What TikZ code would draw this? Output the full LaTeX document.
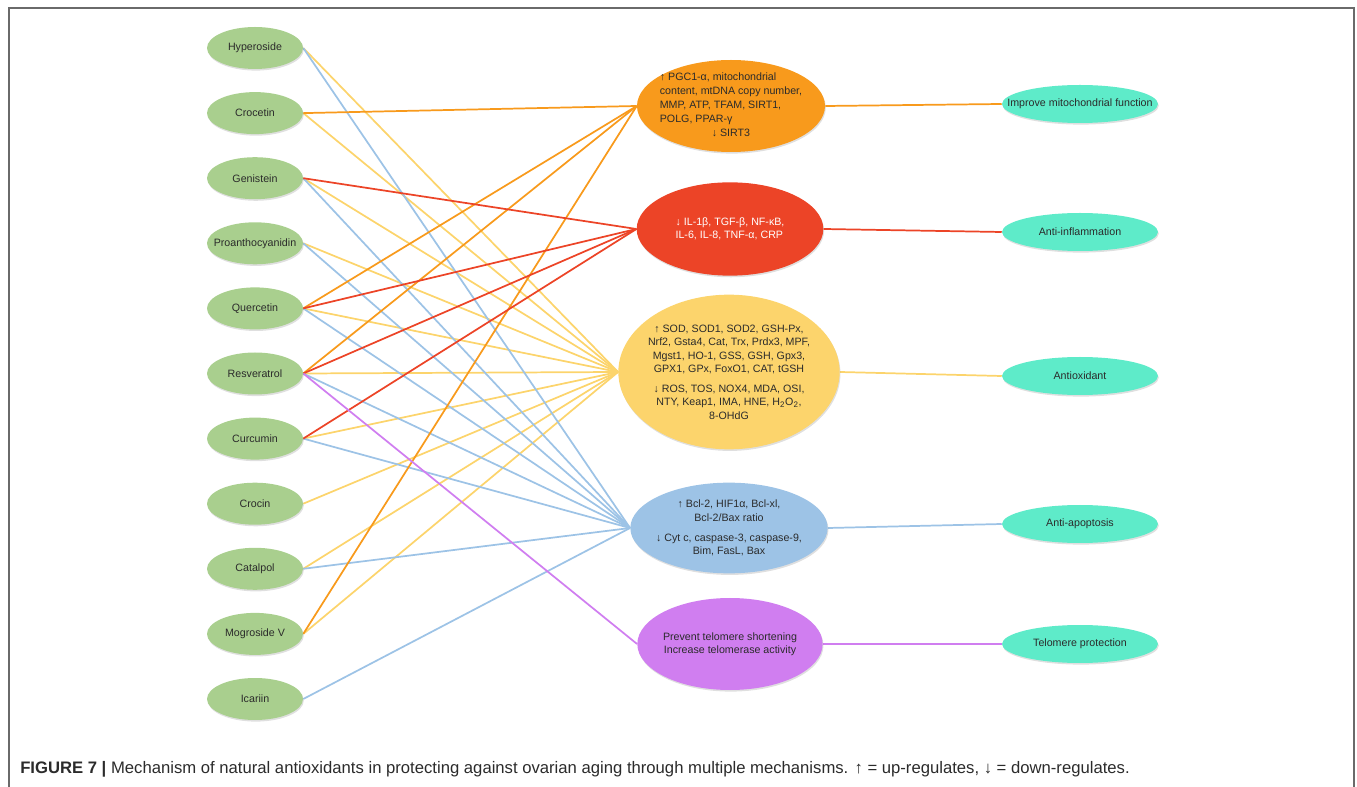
\documentclass[tikz,border=0pt]{standalone}
\usepackage{fontspec}
\setmainfont{Liberation Sans}
\usetikzlibrary{shapes}
\usetikzlibrary{backgrounds,shadows}
\definecolor{leafgreen}{HTML}{A9CF8E}
\definecolor{mitoorange}{HTML}{F89A1C}
\definecolor{inflred}{HTML}{EC4427}
\definecolor{oxyellow}{HTML}{FCD46C}
\definecolor{apoblue}{HTML}{9DC3E6}
\definecolor{telopurple}{HTML}{D07EF0}
\definecolor{outaqua}{HTML}{5EEBC9}
\definecolor{inkgray}{HTML}{2B2B2B}
\definecolor{framegray}{HTML}{6A6A6A}
\tikzstyle{softshadow}=[drop shadow={opacity=0.25,shadow xshift=0.6pt,shadow yshift=-1.2pt}]
\tikzstyle{plant}=[ellipse, fill=leafgreen, softshadow, minimum width=72pt, minimum height=31.5pt, inner xsep=-8pt, inner ysep=0pt, text=inkgray, font=\fontsize{8}{10}\selectfont]
\tikzstyle{effect}=[ellipse, softshadow, inner xsep=-7pt, inner ysep=-7pt, text=inkgray, align=center, font=\fontsize{8}{10}\selectfont]
\tikzstyle{outcome}=[ellipse, fill=outaqua, softshadow, minimum width=117pt, minimum height=28.5pt, inner xsep=-15pt, inner ysep=0pt, text=inkgray, font=\fontsize{8}{10}\selectfont]
\tikzstyle{link}=[line width=1.3pt]
\tikzstyle{mitolink}=[link, draw=mitoorange]
\tikzstyle{infllink}=[link, draw=inflred]
\tikzstyle{oxlink}=[link, draw=oxyellow]
\tikzstyle{apolink}=[link, draw=apoblue]
\tikzstyle{telolink}=[link, draw=telopurple]
\newcommand{\plantY}{48}
\newcommand{\plantStep}{65.1}
\begin{document}
\begin{tikzpicture}[x=0.75pt,y=-0.75pt]
\useasboundingbox (0,0) rectangle (1357,787);
\draw[framegray, line width=0.9pt] (9,787) -- (9,8) -- (1354,8) -- (1354,787);
\foreach \n/\t [count=\i from 0] in {hyp/Hyperoside,crt/Crocetin,gen/Genistein,pro/Proanthocyanidin,que/Quercetin,res/Resveratrol,cur/Curcumin,crn/Crocin,cat/Catalpol,mog/Mogroside V,ica/Icariin} {
	\node[plant] (\n) at (255,{\plantY+\plantStep*\i}) {\t};
}
\node[effect, fill=mitoorange, minimum width=141pt, minimum height=69pt] (mito) at (731,106) {\renewcommand{\arraystretch}{1.05}\begin{tabular}{@{}l@{}}↑ PGC1-α, mitochondrial\\content, mtDNA copy number,\\MMP, ATP, TFAM, SIRT1,\\POLG, PPAR-γ\\\multicolumn{1}{@{}c@{}}{↓ SIRT3}\end{tabular}};
\node[effect, fill=inflred, text=white, align=left, minimum width=140pt, minimum height=70pt] (infl) at (730,229) {↓ IL-1β, TGF-β, NF-κB,\\IL-6, IL-8, TNF-α, CRP};
\node[effect, fill=oxyellow, minimum width=166pt, minimum height=116pt] (ox) at (729,372) {↑ SOD, SOD1, SOD2, GSH-Px,\\Nrf2, Gsta4, Cat, Trx, Prdx3, MPF,\\Mgst1, HO-1, GSS, GSH, Gpx3,\\GPX1, GPx, FoxO1, CAT, tGSH\\[5pt]↓ ROS, TOS, NOX4, MDA, OSI,\\NTY, Keap1, IMA, HNE, H\textsubscript{2}O\textsubscript{2},\\8-OHdG};
\node[effect, fill=apoblue, minimum width=148pt, minimum height=68pt] (apo) at (729,528) {↑ Bcl-2, HIF1α, Bcl-xl,\\Bcl-2/Bax ratio\\[5pt]↓ Cyt c, caspase-3, caspase-9,\\Bim, FasL, Bax};
\node[effect, fill=telopurple, minimum width=139pt, minimum height=69pt] (telo) at (730,644) {Prevent telomere shortening\\Increase telomerase activity};
\node[outcome] (rmito) at (1080,104) {Improve mitochondrial function};
\node[outcome] (rinfl) at (1080,232) {Anti-inflammation};
\node[outcome] (rox) at (1080,376) {Antioxidant};
\node[outcome] (rapo) at (1080,524) {Anti-apoptosis};
\node[outcome] (rtelo) at (1080,644) {Telomere protection};
\begin{scope}[on background layer]
\foreach \a in {hyp,crt,gen,pro,que,res,cur,crn,cat,mog} \draw[oxlink] (\a.east) -- (ox.west);
\foreach \a in {hyp,gen,pro,que,res,cur,cat,ica} \draw[apolink] (\a.east) -- (apo.west);
\foreach \a in {crt,que,res,mog} \draw[mitolink] (\a.east) -- (mito.west);
\foreach \a in {gen,que,res,cur} \draw[infllink] (\a.east) -- (infl.west);
\draw[telolink] (res.east) -- (telo.west);
\draw[mitolink] (mito.east) -- (rmito.west);
\draw[infllink] (infl.east) -- (rinfl.west);
\draw[oxlink] (ox.east) -- (rox.west);
\draw[apolink] (apo.east) -- (rapo.west);
\draw[telolink] (telo.east) -- (rtelo.west);
\end{scope}
\node[anchor=base west, inner sep=0pt, text=inkgray, font=\fontsize{12.5}{15}\selectfont] (cap) at (20,773) {\textbf{FIGURE 7 |} Mechanism of natural antioxidants in protecting against ovarian aging through multiple mechanisms. ↑ = up-regulates, ↓ = down-regulates.};
\end{tikzpicture}
\end{document}
